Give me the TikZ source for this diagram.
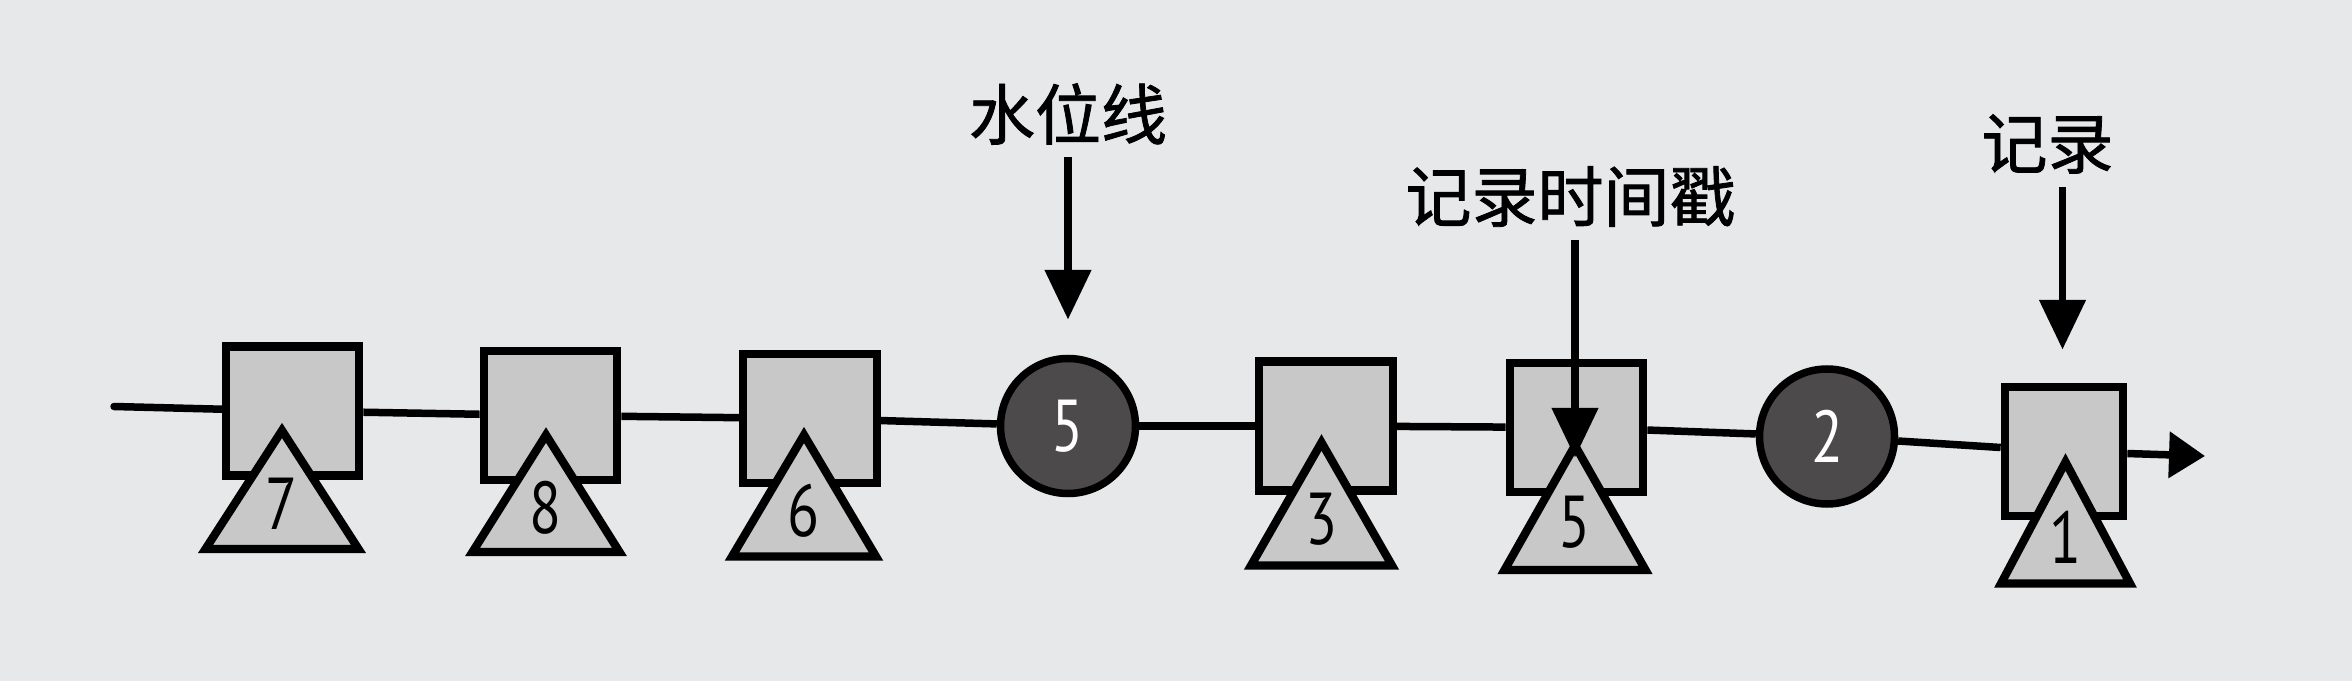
\documentclass[tikz,border=0pt]{standalone}
\usepackage{fontspec}
\newfontfamily\cjk{Noto Sans CJK SC}[FakeBold=1.2]
\newfontfamily\numf{PT Sans}[FakeStretch=0.8]
\usetikzlibrary{arrows.meta}
\definecolor{paper}{RGB}{231,232,234}
\definecolor{boxgray}{RGB}{200,200,200}
\definecolor{dotgray}{RGB}{76,74,74}
\newcommand{\tria}[6]{% name, x, apex y, base y, half width, digit
  \draw[tri] (#2,#3) -- (#2+#5,#4) -- (#2-#5,#4) -- cycle;
  \node[num] (#1) at (#2,{#3+0.62*(#4-#3)}) {#6};
}
\begin{document}
\begin{tikzpicture}[x=1pt,y=-1pt,
  boxn/.style={draw=black, line width=5.5pt, fill=boxgray, minimum width=89pt, minimum height=86pt, inner sep=0pt},
  dot/.style={circle, draw=black, line width=5pt, fill=dotgray, minimum size=90pt, inner sep=0pt, text=white, font=\numf\fontsize{49}{52}\selectfont},
  tri/.style={draw=black, line width=5.5pt, fill=boxgray, line join=miter},
  num/.style={inner sep=0pt, font=\numf\fontsize{49}{52}\selectfont},
  lab/.style={font=\cjk\fontsize{44}{48}\selectfont, inner sep=0pt},
  conn/.style={line width=5pt},
  arr/.style={line width=5pt, -{Triangle[length=33pt,width=30pt]}},
]
\fill[paper] (0,0) rectangle (1568,454);
\useasboundingbox (0,0) rectangle (1568,454);

% boxes and dots
\node[boxn] (b7) at (195,274) {};
\node[boxn] (b8) at (367,277) {};
\node[boxn] (b6) at (540,279) {};
\node[dot]  (c5) at (712,284) {5};
\node[boxn] (b3) at (884,284) {};
\node[boxn] (b5) at (1051,285) {};
\node[dot]  (c2) at (1218,291) {2};
\node[boxn, minimum width=79pt] (b1) at (1376,301) {};

% triangles with timestamps
\tria{t7}{188}{287}{366}{51}{7}
\tria{t8}{364}{290}{368}{49}{8}
\tria{t6}{536}{290}{371}{48}{6}
\tria{t3}{881}{295}{377}{47}{3}
\tria{t5}{1050}{297}{380}{47}{5}
\tria{t1}{1377}{308}{389}{43}{1}

% stream line
\coordinate (start) at (76,271);
\coordinate (tip) at (1470,304);
\draw[conn, line cap=round] (start) -- (b7);
\draw[conn] (b7) -- (b8);
\draw[conn] (b8) -- (b6);
\draw[conn] (b6) -- (c5);
\draw[conn] (c5) -- (b3);
\draw[conn] (b3) -- (b5);
\draw[conn] (b5) -- (c2);
\draw[conn] (c2) -- (b1);
\draw[conn, -{Triangle[length=24pt,width=30pt]}] (b1) -- (tip);

% labels
\node[lab] (wl) at (712,76) {水位线};
\coordinate (wlend) at (712,213);
\draw[arr] (712,105) -- (wlend);
\node[lab] (ts) at (1047,131) {记录时间戳};
\coordinate (tsend) at (1050,305);
\draw[arr] (1050,160) -- (tsend);
\node[lab] (rec) at (1365,96) {记录};
\coordinate (recend) at (1375,233);
\draw[arr] (1375,125) -- (recend);
\end{tikzpicture}
\end{document}
